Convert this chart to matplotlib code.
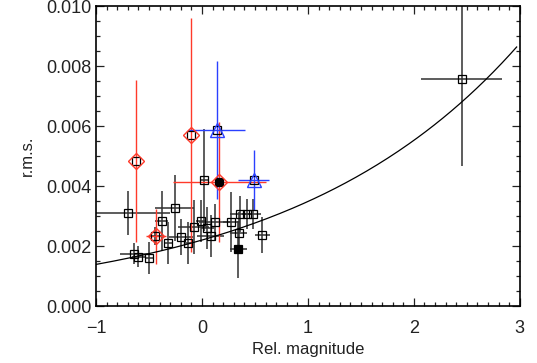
import numpy as np
import matplotlib
matplotlib.use('Agg')
import matplotlib.pyplot as plt
from matplotlib.ticker import MultipleLocator, FormatStrFormatter

plt.rcParams['font.family'] = ['Liberation Sans', 'DejaVu Sans']

# open squares (all stars)
sq_x = [-0.70, -0.64, -0.60, -0.50, -0.44, -0.38, -0.32, -0.26, -0.20, -0.135,
        -0.08, -0.01, 0.02, 0.05, 0.08, 0.125, 0.275, 0.345, 0.36, 0.425,
        0.485, 0.57, 2.45, -0.627, -0.103, 0.138, 0.486]
sq_y = [0.00310, 0.00174, 0.00165, 0.00161, 0.00233, 0.00284, 0.00209, 0.00328,
        0.00230, 0.00209, 0.00265, 0.00285, 0.00419, 0.00261, 0.00233, 0.00279,
        0.00281, 0.00242, 0.00308, 0.00306, 0.00307, 0.00237, 0.00757,
        0.00483, 0.00569, 0.00588, 0.00420]
sq_xerr = [0.40, 0.13, 0.06, 0.04, 0.05, 0.06, 0.04, 0.18, 0.11, 0.04,
           0.15, 0.05, 0.04, 0.06, 0.13, 0.15, 0.08, 0.08, 0.10, 0.05,
           0.07, 0.07, 0.385, 0, 0, 0, 0]
sq_yerr = [0.00072, 0.00035, 0.00035, 0.00053, 0.0003, 0.0010, 0.0007, 0.0011,
           0.0006, 0.0007, 0.0009, 0.0007, 0.0017, 0.0007, 0.0007, 0.0006,
           0.0010, 0.0007, 0.0006, 0.0005, 0.0005, 0.0006, 0.0029,
           0, 0, 0, 0]

# filled squares
fs_x = [0.343, 0.164]
fs_y = [0.00190, 0.00414]
fs_xerr = [0.08, 0]
fs_yerr = [0.00095, 0]

# red diamonds
rd_x = [-0.627, -0.437, -0.103, 0.164]
rd_y = [0.00483, 0.00232, 0.00569, 0.00414]
rd_xerr = [0, 0.095, 0, 0.44]
rd_yerr = [0.0027, 0.00093, 0.0039, 0.0020]

# blue triangles
bt_x = [0.138, 0.486]
bt_y = [0.00588, 0.00420]
bt_xerr = [0.27, 0.15]
bt_yerr = [0.0023, 0.0010]

# noise model curve
fit_c = 0.0022
fit_slope = 0.2
fit_x = np.linspace(-1, 2.97, 200)

fig = plt.figure(figsize=(5.37, 3.63), dpi=100)
ax = fig.add_axes([0.179, 0.157, 0.789, 0.826])

blk = '#303030'
red = '#ff3a2a'
blue = '#2a40ff'

ax.errorbar(sq_x, sq_y, xerr=sq_xerr, yerr=sq_yerr, fmt='none', ecolor=blk, elinewidth=1.1, zorder=2)
ax.errorbar(fs_x, fs_y, xerr=fs_xerr, yerr=fs_yerr, fmt='none', ecolor=blk, elinewidth=1.1, zorder=2)
ax.errorbar(rd_x, rd_y, xerr=rd_xerr, yerr=rd_yerr, fmt='none', ecolor=red, elinewidth=1.0, zorder=3)
ax.errorbar(bt_x, bt_y, xerr=bt_xerr, yerr=bt_yerr, fmt='none', ecolor=blue, elinewidth=1.0, zorder=3)

ax.plot(sq_x, sq_y, 's', ms=5.5, mfc='none', mec='black', mew=0.9, zorder=5)
ax.plot(fs_x, fs_y, 's', ms=5.5, mfc='black', mec='black', mew=0.9, zorder=5)
ax.plot(rd_x, rd_y, 'D', ms=8, mfc='none', mec=red, mew=1.0, zorder=6)
ax.plot(bt_x, bt_y, '^', ms=10, mfc='none', mec=blue, mew=1.0, zorder=6)

ax.plot(fit_x, fit_c * 10 ** (fit_slope * fit_x), color='black', lw=0.9, zorder=4)

ax.set_xlim(-1, 3)
ax.set_ylim(0, 0.010)
ax.xaxis.set_major_locator(MultipleLocator(1))
ax.xaxis.set_minor_locator(MultipleLocator(0.1))
ax.yaxis.set_major_locator(MultipleLocator(0.002))
ax.yaxis.set_minor_locator(MultipleLocator(0.0005))
ax.yaxis.set_major_formatter(FormatStrFormatter('%.3f'))
ax.tick_params(which='both', direction='in', top=True, right=True, width=0.9, colors='#222222',
               labelsize=13, labelcolor='#222222')
ax.tick_params(which='major', length=6)
ax.tick_params(which='minor', length=3)
ax.tick_params(axis='x', pad=10)
for s in ax.spines.values():
    s.set_linewidth(1.2)
ax.set_xlabel('Rel. magnitude', fontsize=12, color='#222222', labelpad=4)
ax.set_ylabel('r.m.s.', fontsize=12, color='#222222', labelpad=8)

fig.savefig('out.png', dpi=100)
